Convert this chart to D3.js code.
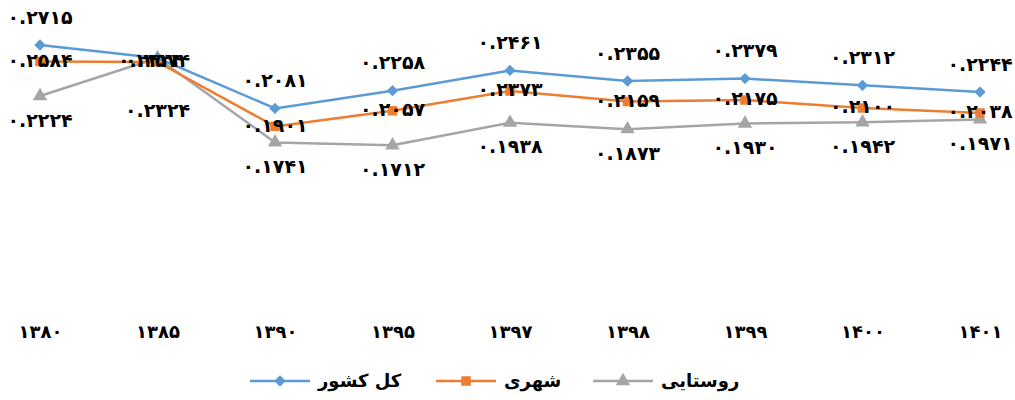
<!DOCTYPE html>
<html>
<head>
<meta charset="utf-8">
<script src="https://cdn.jsdelivr.net/npm/d3@7"></script>
<style>
  body { margin: 0; background: #fff; }
  text { font-family: "DejaVu Sans", sans-serif; font-weight: bold; fill: #000; }
</style>
</head>
<body>
<svg id="chart" width="1015" height="400"></svg>
<script>
'use strict';
// years on the x axis
var years = ['1380', '1385', '1390', '1395', '1397', '1398', '1399', '1400', '1401'];
// plotted values
var kolValues = [0.2715, 0.2585, 0.2081, 0.2258, 0.2461, 0.2355, 0.2379, 0.2312, 0.2244];
var shahriValues = [0.2550, 0.2545, 0.1901, 0.2057, 0.2255, 0.2150, 0.2165, 0.2085, 0.2035];
var roostaeiValues = [0.2205, 0.2585, 0.1741, 0.1712, 0.1938, 0.1873, 0.1930, 0.1942, 0.1971];
// values printed in the data labels
var kolLabels = [0.2715, 0.2434, 0.2081, 0.2258, 0.2461, 0.2355, 0.2379, 0.2312, 0.2244];
var shahriLabels = [0.2584, 0.2574, 0.1901, 0.2057, 0.2373, 0.2159, 0.2175, 0.2100, 0.2038];
var roostaeiLabels = [0.2224, 0.2324, 0.1741, 0.1712, 0.1938, 0.1873, 0.1930, 0.1942, 0.1971];
var seriesNames = ['کل کشور', 'شهری', 'روستایی'];

var persianDigits = '۰۱۲۳۴۵۶۷۸۹';
function toPersian(s) {
    return String(s).replace(/[0-9]/g, function(d) { return persianDigits[+d]; });
}
function fmt(v) { return toPersian(v.toFixed(4)); }

var series = [
    { name: seriesNames[0], values: kolValues, labels: kolLabels, color: '#5B9BD5', marker: d3.symbolSquare, rot: 45, size: 64, labelDy: -28 },
    { name: seriesNames[1], values: shahriValues, labels: shahriLabels, color: '#ED7D31', marker: d3.symbolSquare, rot: 0, size: 90, labelDy: -1.5 },
    { name: seriesNames[2], values: roostaeiValues, labels: roostaeiLabels, color: '#A5A5A5', marker: d3.symbolTriangle, rot: 0, size: 90, labelDy: 24 }
];

var svg = d3.select('#chart');
var x = d3.scalePoint().domain(years).range([40, 980]);
var y = d3.scaleLinear().domain([0, 0.3]).range([316.5, 16.5]);

// x axis labels (no axis line)
var xAxis = svg.append('g').attr('transform', 'translate(0,' + 316.5 + ')')
    .call(d3.axisBottom(x).tickSize(0).tickPadding(9).tickFormat(toPersian));
xAxis.select('.domain').remove();
xAxis.selectAll('text')
    .style('font-size', '18px')
    .style('font-family', '"DejaVu Sans", sans-serif')
    .style('font-weight', 'bold')
    .style('letter-spacing', '0.5px');

var line = d3.line()
    .x(function(d, i) { return x(years[i]); })
    .y(function(d) { return y(d); });

// draw lines bottom-up so blue sits on top
series.slice().reverse().forEach(function(s) {
    svg.append('path')
        .datum(s.values)
        .attr('d', line)
        .attr('fill', 'none')
        .attr('stroke', s.color)
        .attr('stroke-width', 2.5)
        .attr('stroke-linejoin', 'round');
    svg.append('g').selectAll('path')
        .data(s.values)
        .enter().append('path')
        .attr('d', d3.symbol().type(s.marker).size(s.size))
        .attr('transform', function(d, i) {
            return 'translate(' + x(years[i]) + ',' + y(d) + ') rotate(' + s.rot + ')';
        })
        .attr('fill', s.color);
});

// data labels
series.forEach(function(s, si) {
    svg.append('g').selectAll('text')
        .data(s.labels)
        .enter().append('text')
        .attr('x', function(d, i) { return x(years[i]) + (si === 0 && i === 1 ? -7 : 0); })
        .attr('y', function(d, i) {
            // labels at 1385 were dragged around in the original
            if (si === 0 && i === 1) return y(shahriValues[i]) - 1.5;
            if (si === 2 && i === 1) return y(s.values[i]) + 52;
            return y(s.values[i]) + s.labelDy;
        })
        .attr('dy', '0.35em')
        .attr('text-anchor', 'middle')
        .style('font-size', '19px')
        .style('letter-spacing', '1px')
        .attr('direction', 'ltr')
        .text(function(d) { return fmt(d); });
});

// legend
var legendX = [250, 436, 593];
var legend = svg.append('g');
series.forEach(function(s, i) {
    var g = legend.append('g').attr('transform', 'translate(' + legendX[i] + ',381)');
    g.append('line').attr('x1', 0).attr('x2', 60).attr('y1', 0).attr('y2', 0)
        .attr('stroke', s.color).attr('stroke-width', 2.5);
    g.append('path').attr('d', d3.symbol().type(s.marker).size(s.size))
        .attr('transform', 'translate(30,0) rotate(' + s.rot + ')').attr('fill', s.color);
    g.append('text').attr('x', 68).attr('y', 0).attr('dy', '0.35em')
        .attr('text-anchor', 'start')
        .style('font-size', '18px')
        .text(s.name);
});
</script>
</body>
</html>
